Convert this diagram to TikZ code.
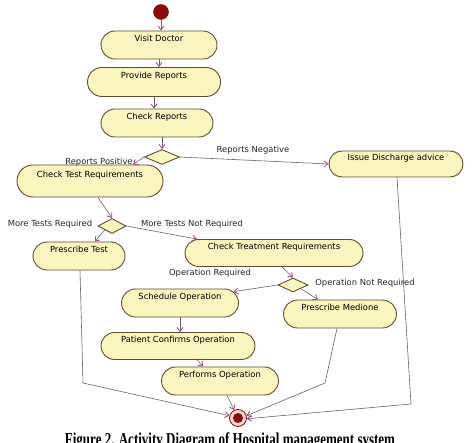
\documentclass[tikz,border=0pt]{standalone}
\usepackage{fontspec}
\usepackage{graphicx}
\newfontfamily\dgfont{DejaVu Sans}
\newfontfamily\capfont{Liberation Serif}
\usetikzlibrary{shapes.misc,shapes.geometric,arrows.meta,calc}
\definecolor{actfill}{HTML}{FAF5BE}
\definecolor{actdraw}{HTML}{5E4E30}
\definecolor{linec}{HTML}{6E5F6E}
\definecolor{arrc}{HTML}{A8407F}
\definecolor{startc}{HTML}{8E0A0A}
\definecolor{endfill}{HTML}{F6D8D8}
\begin{document}
\begin{tikzpicture}[x=1pt,y=-1pt,
 act/.style={rounded rectangle, draw=actdraw, fill=actfill, line width=0.9pt,
   font=\dgfont\fontsize{8.4}{9}\selectfont, text height=7pt, text depth=13pt, inner sep=0pt},
 dec/.style={diamond, draw=actdraw, fill=actfill, line width=0.9pt, inner sep=0pt},
 flow/.style={draw=linec, line width=0.6pt,
   -{Straight Barb[length=4pt,width=6pt,color=arrc,line width=0.8pt]}},
 glabel/.style={font=\dgfont\fontsize{8.4}{9}\selectfont, inner sep=0pt, text=black!85}
]
\useasboundingbox[fill=white] (0,0) rectangle (474,443);

\node[circle, fill=startc, draw=startc!70!black, minimum size=15pt, inner sep=0pt] (start) at (161,12) {};
\node[act, minimum width=116pt, minimum height=28pt] (vd) at (159,45) {Visit Doctor};
\node[act, minimum width=133pt, minimum height=29pt] (pr) at (154,82) {Provide Reports};
\node[act, minimum width=112pt, minimum height=28pt] (cr) at (157,123) {Check Reports};
\node[dec, minimum width=35pt, minimum height=15pt] (d1) at (162,157) {};
\node[act, minimum width=134pt, minimum height=26pt] (ida) at (396,164) {Issue Discharge advice};
\node[act, minimum width=146pt, minimum height=32pt] (ctr) at (90,181) {Check Test Requirements};
\node[dec, minimum width=28pt, minimum height=15pt] (d2) at (112,226) {};
\node[act, minimum width=92pt, minimum height=28pt] (pt) at (79,256) {Prescribe Test};
\node[act, minimum width=178pt, minimum height=27pt] (ctt) at (274,253) {Check Treatment Requirements};
\node[dec, minimum width=30pt, minimum height=14pt] (d3) at (293,285) {};
\node[act, minimum width=117pt, minimum height=28pt] (so) at (180,303) {Schedule Operation};
\node[act, minimum width=113pt, minimum height=28pt] (pm) at (340,314) {Prescribe Medione};
\node[act, minimum width=154pt, minimum height=27pt] (pco) at (178,346) {Patient Confirms Operation};
\node[act, minimum width=117pt, minimum height=28pt] (po) at (220,381) {Performs Operation};
\node[circle, draw=startc, fill=endfill, minimum size=17pt, inner sep=0pt, line width=0.8pt] (end) at (238,418) {};
\node[circle, fill=startc, minimum size=10pt, inner sep=0pt] (endin) at (end) {};

\node[glabel] (lneg) at (253,150) {Reports Negative};
\node[glabel] (lpos) at (99,162) {Reports Positive};
\node[glabel] (lmtr) at (50,224) {More Tests Required};
\node[glabel] (lmtnr) at (192,224) {More Tests Not Required};
\node[glabel] (lor) at (210,273) {Operation Required};
\node[glabel] (lonr) at (365,283) {Operation Not Required};

\draw[flow] (start) -- (start |- vd.north);
\draw[flow] (vd.south) -- (vd.south |- pr.north);
\draw[flow] (pr.south) -- (pr.south |- cr.north);
\draw[flow] (cr.south -| d1.north) -- (d1.north);
\draw[flow] (d1.east) -- (ida.west);
\draw[flow] (d1.west) -- ($(ctr.north)+(43,0)$);
\draw[flow] ($(ctr.south)+(8,0)$) -- (d2.north);
\draw[flow] (d2.south west) -- ($(pt.north)+(16,0)$);
\draw[flow] (d2.east) -- ($(ctt.north)+(-77,0)$);
\draw[flow] ($(ctt.south)+(8,0)$) -- (d3.north);
\draw[flow] (d3.west) -- (so.12);
\draw[flow] (d3.south east) -- ($(pm.north)+(-22,0)$);
\draw[flow] (so.south) -- (so.south |- pco.north);
\draw[flow] ($(pco.south)+(19,0)$) -- ($(po.north)+(-17,0)$);
\draw[flow] ($(po.south)+(7,0)$) -- (end.115);
\coordinate (b1) at (83,383);
\coordinate (b2) at (325,383);
\coordinate (b3) at (411,404);
\draw[flow] ($(pt.south)+(1,0)$) -- (b1) -- (end.165);
\draw[flow] ($(pm.south)+(-3,0)$) -- (b2) -- (end.15);
\draw[flow] ($(ida.south)+(1,0)$) -- (b3) -- (end.-5);

\node[anchor=base, font=\capfont\bfseries\fontsize{13}{14}\selectfont, inner sep=0pt] (cap) at (230,446)
  {\scalebox{1}[1.4]{Figure 2. Activity Diagram of Hospital management system}};
\end{tikzpicture}
\end{document}
